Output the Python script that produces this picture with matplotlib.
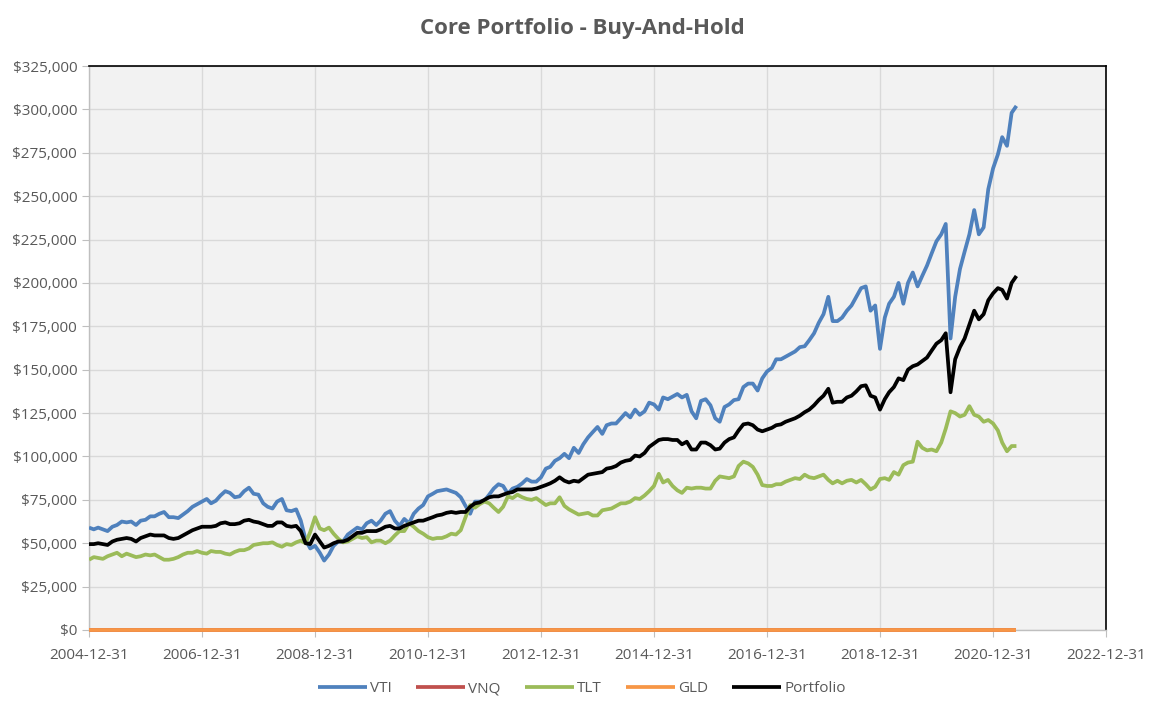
import pandas as pd
import matplotlib.pyplot as plt
import matplotlib.dates as mdates
from matplotlib.ticker import FuncFormatter, MultipleLocator

# month-end values in $1000s, 2004-12 .. 2021-05
dates = pd.date_range('2004-12-31', periods=198, freq='ME')

vti = [59,
       58, 59, 58, 57, 59.5, 60.5, 62.5, 62, 62.5, 60.5, 63, 63.5,
       65.5, 65.5, 67, 68, 65, 65, 64.5, 66.5, 68.5, 71, 72.5, 74,
       75.5, 73, 74.5, 77.5, 80, 79, 76.5, 77, 80, 82, 78.5, 78,
       73, 71, 70, 74, 75.5, 69, 68.5, 69.5, 63, 52, 47, 48.5,
       44.5, 40, 43.5, 48.5, 51, 51, 55, 57, 59, 58, 61.5, 63,
       60.5, 63, 67, 68.5, 63, 60, 64, 61.5, 67, 70, 72, 77,
       78.5, 80, 80.5, 81, 80, 79, 76.5, 71.5, 67, 74, 74, 74.5,
       78, 81.5, 84, 83, 78.5, 81.5, 82.5, 84.5, 87, 85.5, 85.5, 88,
       93, 94, 97.5, 99, 101.5, 99, 105, 102, 107, 111, 114, 117,
       113, 118, 119, 119, 122, 125, 122.5, 127, 124, 126, 131, 130,
       127, 134, 133, 134.5, 136, 134, 135.5, 126, 122, 132, 133, 129.5,
       122, 120, 128.5, 130, 132.5, 133, 140, 142, 142, 138, 145, 149,
       151, 156, 156, 157.5, 159, 160.5, 163, 163.5, 167, 171, 177, 182,
       192, 178, 178, 180, 184, 187, 192, 197, 198, 184, 187, 162,
       180, 188, 192, 200, 188, 200, 206, 198, 204, 210, 217, 224,
       228, 234, 168, 192, 208, 218, 228, 242, 228, 232, 254, 266,
       274, 284, 279, 298, 302]

tlt = [40.5,
       42, 41.5, 41, 42.5, 43.5, 44.5, 42.5, 44, 43, 42, 42.5, 43.5,
       43, 43.5, 42, 40.5, 40.5, 41, 42, 43.5, 44.5, 44.5, 45.5, 44.5,
       44, 45.5, 45, 45, 44, 43.5, 45, 46, 46, 47, 49, 49.5,
       50, 50, 50.5, 49, 48, 49.5, 49, 50.5, 51.5, 50, 56.5, 65,
       58.5, 57.5, 59, 55.5, 52.5, 50.5, 51, 52.5, 54, 53, 53.5, 50.5,
       51.5, 51.5, 50, 51.5, 54.5, 57, 57, 61.5, 59.5, 57, 55.5, 53.5,
       52.5, 53, 53, 54, 55.5, 55, 57.5, 65, 72, 70.5, 72.5, 74,
       73, 70.5, 68, 71, 77, 76, 78, 76.5, 75.5, 75, 76, 74,
       72, 73, 73, 76.5, 71.5, 69.5, 68, 66.5, 67, 67.5, 66, 66,
       69, 69.5, 70, 71.5, 73, 73, 74, 76, 75.5, 77.5, 80, 83,
       90, 85, 86.5, 83, 80.5, 79, 82, 81.5, 82, 82, 81.5, 81.5,
       86, 88.5, 88, 87.5, 88.5, 94.5, 97, 96, 94, 89.5, 83.5, 83,
       83, 84, 84, 85.5, 86.5, 87.5, 87, 89.5, 88, 87.5, 88.5, 89.5,
       86.5, 84.5, 86, 84.5, 86, 86.5, 85, 86.5, 84, 81, 82.5, 87,
       87.5, 86.5, 91, 89.5, 95, 96.5, 97, 108.5, 105, 103.5, 104, 103,
       108, 116, 126, 125, 123, 124, 129, 124, 123, 120, 121, 119,
       115, 108, 103, 106, 106]

portfolio = [49.5,
             49.5, 50, 49.5, 49, 51, 52, 52.5, 53, 52.5, 51, 53, 54,
             55, 54.5, 54.5, 54.5, 53, 52.5, 53, 54.5, 56, 57.5, 58.5, 59.5,
             59.5, 59.5, 60, 61.5, 62, 61, 61, 61.5, 63, 63.5, 62.5, 62,
             61, 60, 60, 62, 62, 60, 59.5, 60, 57, 50, 49.5, 55,
             51, 47.5, 48.5, 50, 51, 51, 52, 54, 56, 56, 57, 57,
             57, 58, 59.5, 60, 58.5, 58.5, 60, 61, 62, 63, 63, 64,
             65, 66, 66.5, 67.5, 68, 67.5, 68, 68, 71, 73, 73.5, 75,
             76.5, 77, 77, 78, 79, 79.5, 81, 81, 81, 81, 81.5, 82.5,
             83.5, 84.5, 86, 88, 86, 85, 86, 85.5, 87.5, 89.5, 90, 90.5,
             91, 93, 93.5, 94.5, 96.5, 97.5, 98, 100.5, 100, 102, 105.5, 107.5,
             109.5, 110, 110, 109.5, 109.5, 107, 108.5, 104, 104, 108, 108, 106.5,
             104, 104.5, 108, 110, 111, 115, 118.5, 119, 118, 115.5, 114.5, 115.5,
             116.5, 118, 118.5, 120, 121, 122, 123.5, 125.5, 127, 129.5, 132.5, 135,
             139, 131, 131.5, 131.5, 134, 135, 137.5, 140.5, 141, 135, 134, 127,
             133, 137, 140, 145, 144, 150, 152, 153, 155, 157, 161, 165,
             167, 171, 137, 156, 163, 168, 176, 184, 179, 182, 190, 194,
             197, 196, 191, 200, 204]

# VNQ and GLD sit at zero the whole way
vnq = [0] * len(dates)
gld = [0] * len(dates)

names = ['VTI', 'VNQ', 'TLT', 'GLD', 'Portfolio']
colors = ['#4F81BD', '#C0504D', '#9BBB59', '#F79646', '#000000']
series = [vti, vnq, tlt, gld, portfolio]

plt.rcParams['font.family'] = ['Open Sans', 'DejaVu Sans']
gray = '#595959'

fig = plt.figure(figsize=(11.64, 7.10), dpi=100)
ax = fig.add_axes([89/1164, 1-630/710, (1106-89)/1164, (630-66)/710])
ax.set_facecolor('#F2F2F2')

for name, col, vals in zip(names, colors, series):
    ax.plot(dates, [v * 1000 for v in vals], color=col, lw=2.7, label=name, zorder=3,
            clip_on=(name not in ('VNQ', 'GLD')), solid_capstyle='butt')

ax.set_ylim(0, 325000)
ax.set_xlim(pd.Timestamp('2004-12-31'), pd.Timestamp('2022-12-31'))
ax.yaxis.set_major_locator(MultipleLocator(25000))
ax.yaxis.set_major_formatter(FuncFormatter(lambda v, p: '${:,.0f}'.format(v)))
ax.set_xticks(pd.to_datetime(['%d-12-31' % y for y in range(2004, 2023, 2)]))
ax.xaxis.set_major_formatter(mdates.DateFormatter('%Y-%m-%d'))

ax.grid(True, color='#D9D9D9', lw=1)
ax.set_axisbelow(True)
for s in ['top', 'right']:
    ax.spines[s].set_color('black')
    ax.spines[s].set_linewidth(1.2)
for s in ['left', 'bottom']:
    ax.spines[s].set_color('#BFBFBF')
    ax.spines[s].set_linewidth(1)
ax.tick_params(axis='both', colors='#BFBFBF', length=5, labelsize=11, labelcolor=gray)
ax.tick_params(axis='x', pad=8)

fig.suptitle('Core Portfolio - Buy-And-Hold', y=0.975, fontsize=16, fontweight='bold', color=gray)
fig.legend(loc='center', bbox_to_anchor=(0.5, 1-689/710), ncol=5, frameon=False,
           fontsize=11, labelcolor=gray, handlelength=3.2, handletextpad=0.2, columnspacing=1.6)

plt.savefig('out.png')
